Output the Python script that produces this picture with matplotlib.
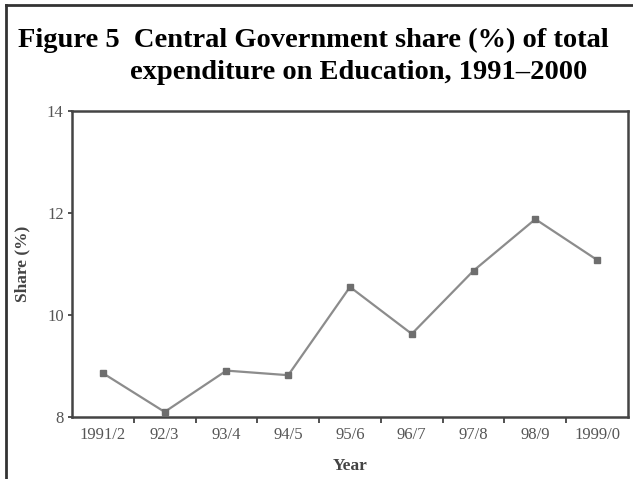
import matplotlib.pyplot as plt
from matplotlib.lines import Line2D

years = ["1991/2", "92/3", "93/4", "94/5", "95/6", "96/7", "97/8", "98/9", "1999/0"]
share = [8.86, 8.10, 8.91, 8.82, 10.55, 9.63, 10.87, 11.88, 11.08]
yticks = [8, 10, 12, 14]

plt.rcParams['font.family'] = ['Liberation Serif', 'DejaVu Serif']

fig = plt.figure(figsize=(6.33, 4.79), dpi=100)
ax = fig.add_axes([0.1137, 0.1294, 0.8784, 0.6388])

x = list(range(len(years)))
ax.plot(x, share, color="#8c8c8c", linewidth=1.6, marker="s", markersize=4,
        markerfacecolor="#6e6e6e", markeredgecolor="#6e6e6e")

ax.set_xlim(-0.5, len(years) - 0.5)
ax.set_ylim(8, 14)
ax.set_yticks(yticks)
ax.set_yticklabels([str(v) for v in yticks], fontsize=12, color="#555555")
ax.set_xticks(x)
ax.set_xticklabels(years, fontsize=12, color="#555555")
ax.set_xticks([i + 0.5 for i in range(len(years) - 1)], minor=True)
ax.tick_params(axis="x", which="major", length=0, pad=7)
ax.tick_params(axis="x", which="minor", length=4, width=1.2, direction="out", color="#333333")
ax.tick_params(axis="y", length=3, width=1.2, direction="out", color="#333333", pad=3)

for s in ax.spines.values():
    s.set_linewidth(1.8)
    s.set_color("#444444")

ax.set_ylabel("Share (%)", fontsize=12.5, fontweight="bold", color="#444444", labelpad=12)
ax.set_xlabel("Year", fontsize=12.5, fontweight="bold", color="#444444", labelpad=11)

fig.text(0.028, 0.915, "Figure 5  Central Government share (%) of total",
         fontsize=20.5, fontweight="bold", ha="left", va="center")
fig.text(0.205, 0.848, "expenditure on Education, 1991\u20132000",
         fontsize=20.5, fontweight="bold", ha="left", va="center")

# page frame (left and top edges)
fig.add_artist(Line2D([0.0095, 0.0095], [0, 0.99], transform=fig.transFigure,
                      color="#333333", linewidth=2))
fig.add_artist(Line2D([0.0095, 1.0], [0.99, 0.99], transform=fig.transFigure,
                      color="#333333", linewidth=2))

fig.savefig("out.png", dpi=100)
